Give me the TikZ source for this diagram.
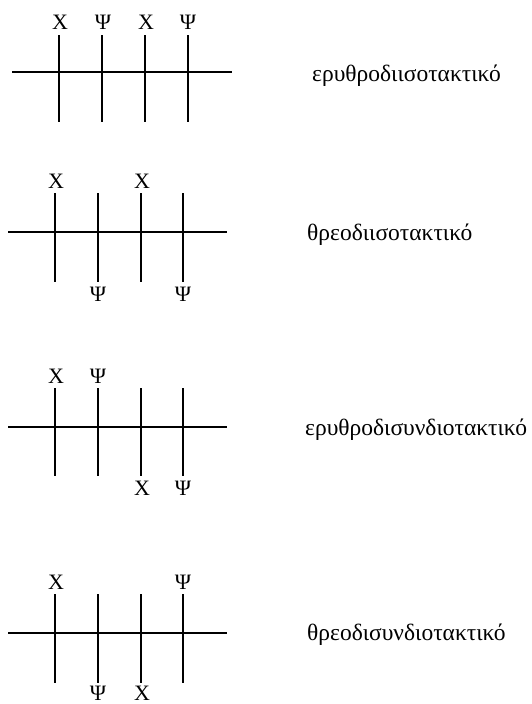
\documentclass[tikz,border=0pt]{standalone}
\usepackage{fontspec}
\setmainfont{Liberation Serif}
\usetikzlibrary{positioning}

\begin{document}
\begin{tikzpicture}[
  x=1pt, y=-1pt,
  stick/.style={line width=1.1pt},
  bond/.style={line width=1.4pt},
  grp/.style={inner sep=0pt, font=\fontsize{22}{26}\selectfont},
  title/.style={anchor=base west, inner sep=0pt, font=\fontsize{23.5}{28}\selectfont}
]
\useasboundingbox (0,0) rectangle (531,704);

% erythro, isotactic
\coordinate (a-w) at (12,72);
\coordinate (a-e) at (232,72);
\foreach \i/\x in {1/59,2/102,3/145,4/188} {
  \coordinate (a\i) at (\x,72);
  \coordinate (a\i-t) at (\x,35);
  \coordinate (a\i-b) at (\x,122);
  \draw[stick] (a\i-t) -- (a\i-b);
}
\draw[stick] (a-w) -- (a2) (a3) -- (a-e);
\draw[bond] (a2) -- (a3);
\node[grp] (a1-g) at (60,22) {X};
\node[grp] (a2-g) at (103,22) {Ψ};
\node[grp] (a3-g) at (146,22) {X};
\node[grp] (a4-g) at (188,22) {Ψ};
\node[title] (a-name) at (312,81) {ερυθροδιισοτακτικό};

% threo, isotactic
\coordinate (b-w) at (8,232);
\coordinate (b-e) at (227,232);
\foreach \i/\x in {1/55,2/98,3/141,4/183} {
  \coordinate (b\i) at (\x,232);
  \coordinate (b\i-t) at (\x,193);
  \coordinate (b\i-b) at (\x,282);
  \draw[stick] (b\i-t) -- (b\i-b);
}
\draw[stick] (b-w) -- (b2) (b3) -- (b-e);
\draw[bond] (b2) -- (b3);
\node[grp] (b1-g) at (56,181) {X};
\node[grp] (b2-g) at (98,294) {Ψ};
\node[grp] (b3-g) at (142,181) {X};
\node[grp] (b4-g) at (183,294) {Ψ};
\node[title] (b-name) at (307,240) {θρεοδιισοτακτικό};

% erythro, syndiotactic
\coordinate (c-w) at (8,427);
\coordinate (c-e) at (227,427);
\foreach \i/\x in {1/55,2/98,3/141,4/183} {
  \coordinate (c\i) at (\x,427);
  \coordinate (c\i-t) at (\x,388);
  \coordinate (c\i-b) at (\x,476);
  \draw[stick] (c\i-t) -- (c\i-b);
}
\draw[stick] (c-w) -- (c2) (c3) -- (c-e);
\draw[bond] (c2) -- (c3);
\node[grp] (c1-g) at (56,376) {X};
\node[grp] (c2-g) at (98,376) {Ψ};
\node[grp] (c3-g) at (142,488) {X};
\node[grp] (c4-g) at (183,488) {Ψ};
\node[title] (c-name) at (305,435) {ερυθροδισυνδιοτακτικό};

% threo, syndiotactic
\coordinate (d-w) at (8,633);
\coordinate (d-e) at (227,633);
\foreach \i/\x in {1/55,2/98,3/141,4/183} {
  \coordinate (d\i) at (\x,633);
  \coordinate (d\i-t) at (\x,594);
  \coordinate (d\i-b) at (\x,683);
  \draw[stick] (d\i-t) -- (d\i-b);
}
\draw[stick] (d-w) -- (d2) (d3) -- (d-e);
\draw[bond] (d2) -- (d3);
\node[grp] (d1-g) at (56,582) {X};
\node[grp] (d2-g) at (98,693) {Ψ};
\node[grp] (d3-g) at (142,693) {X};
\node[grp] (d4-g) at (183,582) {Ψ};
\node[title] (d-name) at (307,640) {θρεοδισυνδιοτακτικό};
\end{tikzpicture}
\end{document}
